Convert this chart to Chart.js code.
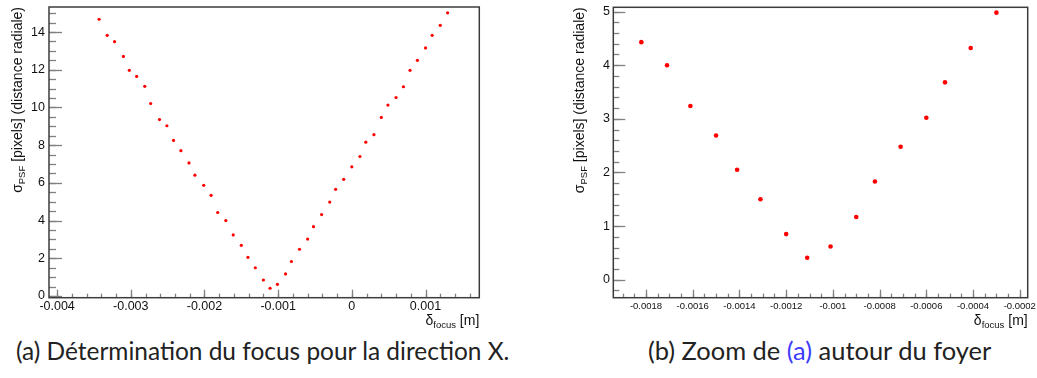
<html>
<head>
<meta charset="UTF-8">
<title>sigma PSF vs delta focus</title>
<script src="https://cdn.jsdelivr.net/npm/chart.js"></script>
<style>
  body { margin: 0; background: #fff; width: 1037px; height: 378px; position: relative; overflow: hidden; }
  .box { position: absolute; top: 0; }
  .caption { position: absolute; white-space: nowrap; font-family: Lato, sans-serif; color: #222; }
</style>
</head>
<body>
<div class="box" style="left:0"><canvas id="focusChart" width="500" height="335"></canvas></div>
<div class="box" style="left:530px"><canvas id="zoomChart" width="507" height="335"></canvas></div>
<div class="caption" id="capA">(a) Détermination du focus pour la direction X.</div>
<div class="caption" id="capB">(b) Zoom de <span style="color:#3c3cff">(a)</span> autour du foyer</div>
<script>
// delta focus [m] and sigma PSF [pixels]
const deltaFocus = [-0.00343, -0.00332, -0.00322, -0.00310, -0.00302, -0.00292, -0.00281, -0.00273,
  -0.00261, -0.00251, -0.00242, -0.00232, -0.00221, -0.00213, -0.00201, -0.00191,
  -0.00182, -0.00171, -0.00161, -0.00150, -0.00141, -0.00131, -0.00120, -0.00111,
  -0.00101, -0.00090, -0.00082, -0.00071, -0.00060, -0.00052, -0.00041, -0.00030,
  -0.00022, -0.00011, 0.00000, 0.00011, 0.00019, 0.00030, 0.00040, 0.00049,
  0.00060, 0.00070, 0.00079, 0.00089, 0.00100, 0.00109, 0.00120, 0.00130];
const sigmaPsf = [14.68, 13.83, 13.49, 12.71, 11.97, 11.65, 11.12, 10.21,
  9.36, 9.03, 8.25, 7.71, 7.06, 6.41, 5.87, 5.34,
  4.43, 4.00, 3.24, 2.69, 2.05, 1.50, 0.85, 0.41,
  0.62, 1.17, 1.83, 2.48, 3.02, 3.68, 4.32, 4.98,
  5.66, 6.19, 6.85, 7.40, 8.16, 8.56, 9.47, 10.13,
  10.53, 11.10, 11.97, 12.50, 13.16, 13.83, 14.36, 15.02];

const focusXTicks = [-0.004, -0.003, -0.002, -0.001, 0, 0.001];
const focusXLabels = ['-0.004', '-0.003', '-0.002', '-0.001', '0', '0.001'];
const focusYTicks = [0, 2, 4, 6, 8, 10, 12, 14];
const zoomXTicks = [-0.0018, -0.0016, -0.0014, -0.0012, -0.001, -0.0008, -0.0006, -0.0004, -0.0002];
const zoomXLabels = ['-0.0018', '-0.0016', '-0.0014', '-0.0012', '-0.001', '-0.0008', '-0.0006', '-0.0004', '-0.0002'];
const zoomYTicks = [0, 1, 2, 3, 4, 5];

const AXIS_FONT = 'Liberation Sans, Arial, sans-serif';

// ROOT-like frame: inside ticks, box, axis titles with subscripts
const rootFrame = {
  id: 'rootFrame',
  afterDraw(chart, args, o) {
    const { ctx, chartArea: a, scales: { x, y } } = chart;
    ctx.save();
    ctx.strokeStyle = '#808080';
    ctx.lineWidth = 1.3;
    const minors = (scale, step) => {
      const out = [];
      for (let k = Math.ceil(scale.min / step - 1e-6); k * step <= scale.max + step * 1e-6; k++) out.push(k * step);
      return out;
    };
    const xTick = (v, len) => {
      const px = Math.round(x.getPixelForValue(v)) + 0.5;
      ctx.beginPath(); ctx.moveTo(px, a.bottom); ctx.lineTo(px, a.bottom - len); ctx.stroke();
    };
    const yTick = (v, len) => {
      const py = Math.round(y.getPixelForValue(v)) + 0.5;
      ctx.beginPath(); ctx.moveTo(a.left, py); ctx.lineTo(a.left + len, py); ctx.stroke();
    };
    minors(x, o.xMinor).forEach(v => xTick(v, o.xLen[1]));
    o.xMajor.forEach(v => xTick(v, o.xLen[0]));
    minors(y, o.yMinor).forEach(v => yTick(v, o.yLen[1]));
    o.yMajor.forEach(v => yTick(v, o.yLen[0]));

    ctx.strokeStyle = '#3c3c3c';
    ctx.lineWidth = 1.5;
    ctx.strokeRect(a.left, a.top, a.width, a.height);

    ctx.fillStyle = '#111';
    ctx.textBaseline = 'alphabetic';
    const runs = parts => {
      let w = 0;
      parts.forEach(p => { ctx.font = p.size + 'px ' + AXIS_FONT; p.w = ctx.measureText(p.t).width; w += p.w; });
      return w;
    };
    // x title, right aligned on the frame
    const xParts = [{ t: 'δ', size: 14, dy: 0 }, { t: 'focus', size: 9.5, dy: 3.3 }, { t: ' [m]', size: 14, dy: 0 }];
    let cx = a.right - runs(xParts);
    xParts.forEach(p => { ctx.font = p.size + 'px ' + AXIS_FONT; ctx.fillText(p.t, cx, 325 + p.dy); cx += p.w; });
    // y title, rotated, ending at the top of the frame
    const yParts = [{ t: 'σ', size: 14, dy: 0 }, { t: 'PSF', size: 9.5, dy: 3.3 }, { t: ' [pixels] (distance radiale)', size: 14, dy: 0 }];
    ctx.translate(o.yTitleX, a.top);
    ctx.rotate(-Math.PI / 2);
    let cu = -runs(yParts);
    yParts.forEach(p => { ctx.font = p.size + 'px ' + AXIS_FONT; ctx.fillText(p.t, cu, p.dy); cu += p.w; });
    ctx.restore();
  }
};

function makeChart(id, cfg) {
  return new Chart(document.getElementById(id), {
    type: 'scatter',
    data: {
      datasets: [{
        data: cfg.xs.map((v, i) => ({ x: v, y: cfg.ys[i] })),
        backgroundColor: '#ff0000',
        borderWidth: 0,
        pointRadius: cfg.radius,
        pointStyle: 'circle'
      }]
    },
    options: {
      responsive: false,
      animation: false,
      devicePixelRatio: 1,
      layout: { padding: { left: 0, top: cfg.top, right: cfg.right, bottom: 0 } },
      plugins: {
        legend: { display: false },
        tooltip: { enabled: false },
        rootFrame: cfg.frame
      },
      scales: {
        x: {
          type: 'linear', min: cfg.xRange[0], max: cfg.xRange[1],
          grid: { display: false, drawTicks: false }, border: { display: false },
          afterBuildTicks: s => { s.ticks = cfg.xTicks.map(v => ({ value: v })); },
          afterFit: s => { s.height = cfg.xHeight; s.paddingLeft = 0; s.paddingRight = 0; },
          ticks: {
            autoSkip: false, maxRotation: 0, padding: cfg.xPad, color: '#111',
            font: { family: AXIS_FONT, size: cfg.xFont },
            callback: (v, i) => cfg.xLabels[i]
          }
        },
        y: {
          type: 'linear', min: cfg.yRange[0], max: cfg.yRange[1],
          grid: { display: false, drawTicks: false }, border: { display: false },
          afterBuildTicks: s => { s.ticks = cfg.yTicks.map(v => ({ value: v })); },
          afterFit: s => { s.width = cfg.yWidth; s.paddingTop = 0; s.paddingBottom = 0; },
          ticks: {
            autoSkip: false, padding: cfg.yPad, color: '#111',
            font: { family: AXIS_FONT, size: cfg.yFont },
            callback: v => String(v)
          }
        }
      }
    },
    plugins: [rootFrame]
  });
}

makeChart('focusChart', {
  xs: deltaFocus, ys: sigmaPsf, radius: 1.6,
  xRange: [-0.00411, 0.00173], yRange: [-0.09, 15.33],
  xTicks: focusXTicks, xLabels: focusXLabels, yTicks: focusYTicks,
  top: 7, right: 20.7, xHeight: 37.3, yWidth: 49,
  xPad: 1, yPad: 4, xFont: 12.5, yFont: 12.5,
  frame: { xMajor: focusXTicks, xMinor: 0.0002, yMajor: focusYTicks, yMinor: 0.5, xLen: [8, 4], yLen: [13, 7], yTitleX: 21.5 }
});

// zoom around the focus: points of the full scan inside the zoom window
const zoomX = [], zoomY = [];
deltaFocus.forEach((v, i) => { if (v > -0.00194 && v < -0.000166) { zoomX.push(v); zoomY.push(sigmaPsf[i]); } });

makeChart('zoomChart', {
  xs: zoomX, ys: zoomY, radius: 2.3,
  xRange: [-0.00194, -0.000166], yRange: [-0.336, 5.08],
  xTicks: zoomXTicks, xLabels: zoomXLabels, yTicks: zoomYTicks,
  top: 7.3, right: 9.3, xHeight: 37.3, yWidth: 83.3,
  xPad: 2.5, yPad: 3.3, xFont: 9.5, yFont: 12.5,
  frame: { xMajor: zoomXTicks, xMinor: 0.00005, yMajor: zoomYTicks, yMinor: 0.2, xLen: [8, 4], yLen: [12, 6], yTitleX: 54 }
});

// captions below the plots, fitted to their width
function placeCaption(id, left, right, baseline) {
  const el = document.getElementById(id);
  const c = document.createElement('canvas').getContext('2d');
  c.font = '100px Lato';
  const size = 100 * (right - left) / c.measureText(el.textContent).width;
  el.style.fontSize = size + 'px';
  el.style.lineHeight = size + 'px';
  el.style.left = left + 'px';
  el.style.top = (baseline - size * 0.887) + 'px';
}
placeCaption('capA', 16, 510, 361);
placeCaption('capB', 648, 992, 361);
</script>
</body>
</html>
